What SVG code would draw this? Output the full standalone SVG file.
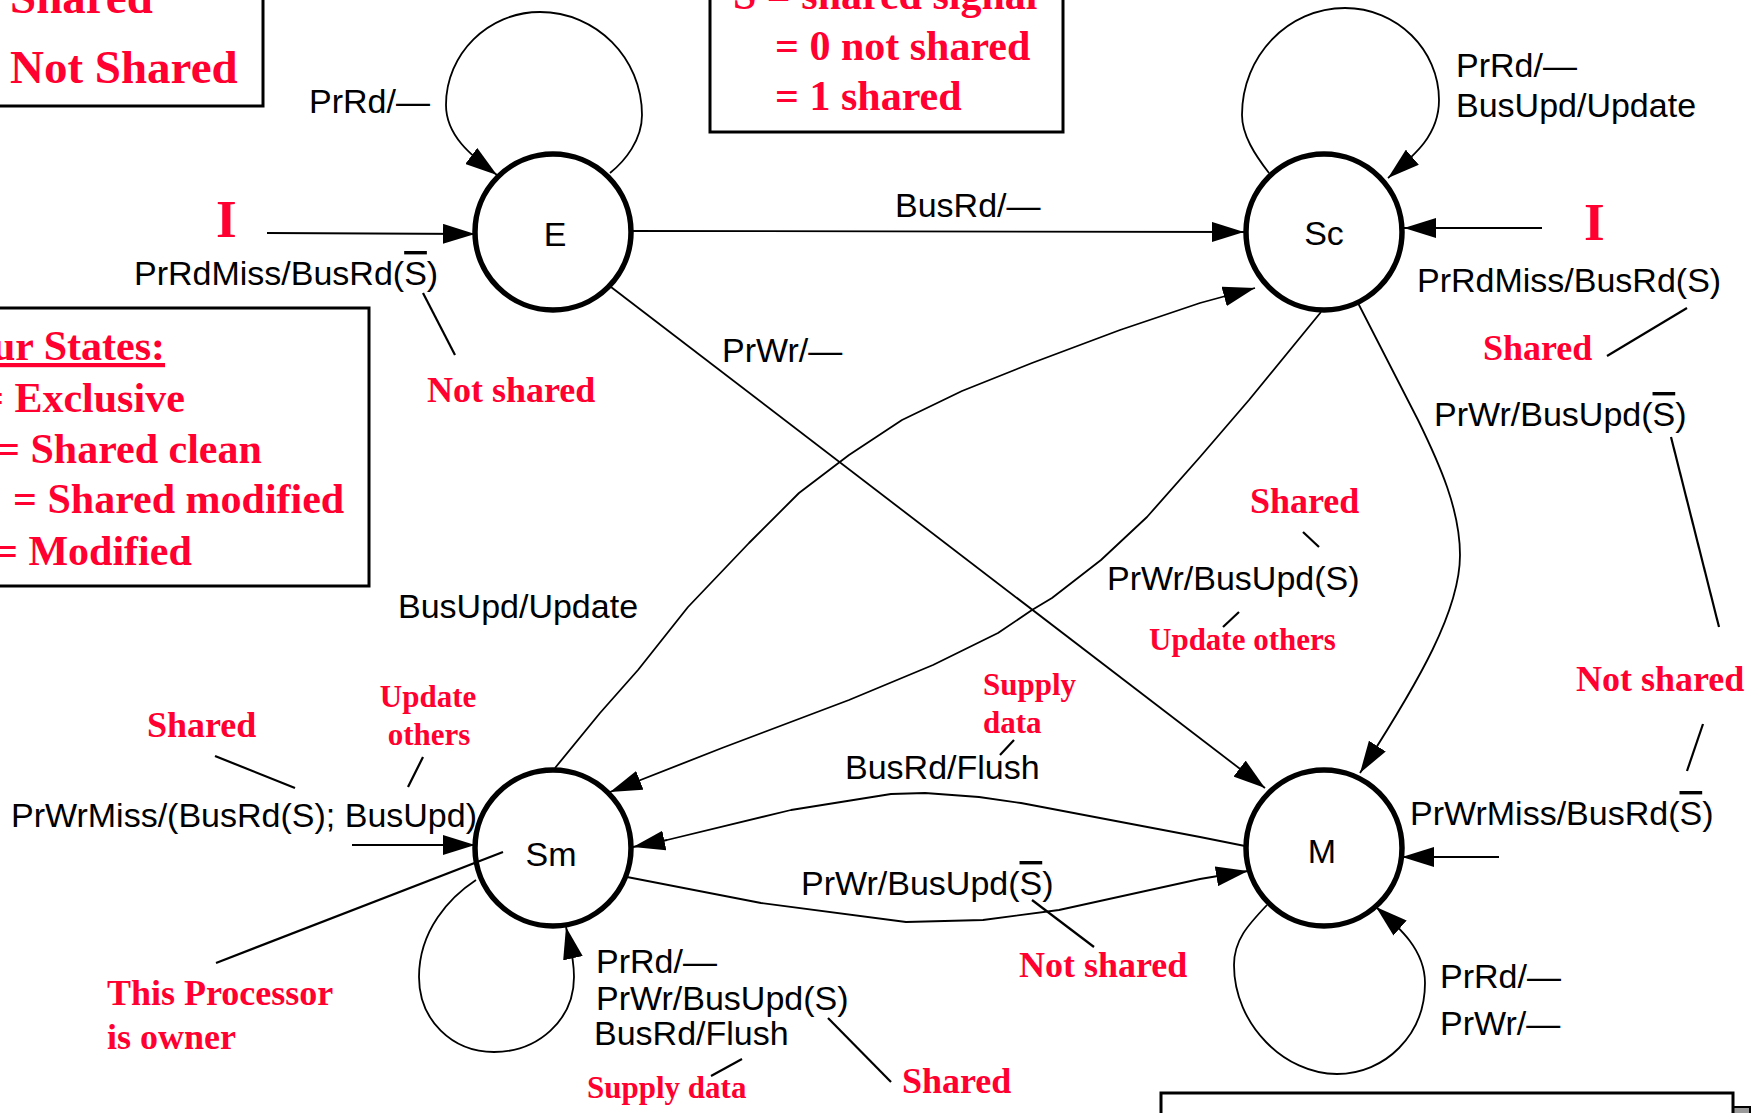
<svg xmlns="http://www.w3.org/2000/svg" width="1752" height="1113" viewBox="0 0 1752 1113">
<defs>
<style>
.lbl{font-family:"Liberation Sans",Arial,sans-serif;font-size:34px;fill:#000}
.st{font-family:"Liberation Sans",Arial,sans-serif;font-size:34px;fill:#000;text-anchor:middle}
.red{font-family:"Liberation Serif","Times New Roman",serif;font-weight:bold;fill:#ff0030}
.r36{font-size:36px}
.r31{font-size:31px}
.r42{font-size:42px}
.r47{font-size:47px}
.r53{font-size:53px}
.box{fill:#fff;stroke:#000;stroke-width:3}
.node{fill:none;stroke:#000;stroke-width:5.5}
.conn{fill:none;stroke:#000;stroke-width:1.8;stroke-linejoin:round;marker-end:url(#ah)}
.lead{fill:none;stroke:#000;stroke-width:2.2}
.ov{text-decoration:overline}
</style>
<marker id="ah" viewBox="0 0 32 20" refX="32" refY="10" markerWidth="32" markerHeight="20" orient="auto" markerUnits="userSpaceOnUse">
<path d="M0,0 L32,10 L0,20 z" fill="#000"/>
</marker>
</defs>
<rect x="0" y="0" width="1752" height="1113" fill="#fff"/>

<g id="legend-top-left">
<rect class="box" x="-10" y="-10" width="273" height="116"/>
<text class="red r47" x="10" y="13">Shared</text>
<text class="red r47" x="10" y="83">Not Shared</text>
</g>

<g id="legend-signal">
<rect class="box" x="710" y="-10" width="353" height="142"/>
<text class="red r42" x="733" y="9">S = shared signal</text>
<text class="red r42" x="775" y="60">= 0 not shared</text>
<text class="red r42" x="775" y="110">= 1 shared</text>
</g>

<g id="legend-states">
<rect class="box" x="-10" y="308" width="379" height="278"/>
<text class="red r42" x="-8" y="360" style="text-decoration:underline">ur States:</text>
<text class="red r42" x="-20" y="412">= Exclusive</text>
<text class="red r42" x="-4" y="463">= Shared clean</text>
<text class="red r42" x="13" y="513">= Shared modified</text>
<text class="red r42" x="-6" y="565">= Modified</text>
</g>

<g id="legend-bottom">
<rect x="1175" y="1107" width="575" height="40" fill="#9a9a9a" stroke="#000" stroke-width="2"/>
<rect class="box" x="1161" y="1093" width="572" height="40"/>
</g>

<g id="connectors">
<path class="conn" d="M267,233 L475,234"/>
<path class="conn" d="M631,231 L1244,232"/>
<path class="conn" d="M1542,228 L1404,228"/>
<path class="conn" d="M352,845 L475,845"/>
<path class="conn" d="M1499,857 L1402,857"/>
<path class="conn" d="M611,287 L1265,788"/>
<path class="conn" d="M610,173 C625,161 642,140 642,115 C642,58 596,12 540,12 C488,12 446,54 446,105 C446,135 470,155 497,175"/>
<path class="conn" d="M1269,173 C1255,155 1242,135 1242,115 C1242,56 1288,8 1345,8 C1397,8 1439,50 1439,100 C1439,135 1415,155 1388,178"/>
<path class="conn" d="M476,880 C450,897 419,930 419,977 C419,1020 452,1052 494,1052 C538,1052 574,1020 574,977 C574,957 570,945 566,927"/>
<path class="conn" d="M1267,905 C1248,925 1234,940 1234,965 C1234,1025 1285,1074 1337,1074 C1385,1074 1425,1035 1425,983 C1425,950 1400,928 1376,907"/>
<path class="conn" d="M1358,303 L1418,420 C1440,465 1460,510 1460,555 C1460,610 1420,680 1360,773"/>
<path class="conn" d="M1321,312 L1249,400 L1200,457 L1147,517 L1101,560 L1052,598 L1032,610 L998,633 L933,665 L849,700 L722,748 L610,792"/>
<path class="conn" d="M555,768 L600,713 L638,670 L688,607 L749,543 L799,493 L849,455 L902,420 L962,391 L1032,363 L1120,330 L1200,303 L1255,288"/>
<path class="conn" d="M1245,846 L1200,837 L1021,803 L979,797 L925,793 L891,794 L791,810 L667,840 L633,847"/>
<path class="conn" d="M627,877 L761,903 L906,922 L983,920 L1059,910 L1200,879 L1248,871"/>
</g>

<g id="leaders">
<line class="lead" x1="423" y1="293" x2="455" y2="355"/>
<line class="lead" x1="1687" y1="308" x2="1607" y2="356"/>
<line class="lead" x1="1671" y1="437" x2="1719" y2="627"/>
<line class="lead" x1="1703" y1="724" x2="1687" y2="771"/>
<line class="lead" x1="1303" y1="532" x2="1319" y2="547"/>
<line class="lead" x1="1239" y1="612" x2="1223" y2="627"/>
<line class="lead" x1="215" y1="756" x2="295" y2="788"/>
<line class="lead" x1="423" y1="757" x2="408" y2="787"/>
<line class="lead" x1="216" y1="963" x2="503" y2="852"/>
<line class="lead" x1="1014" y1="740" x2="1000" y2="755"/>
<line class="lead" x1="1032" y1="900" x2="1094" y2="947"/>
<line class="lead" x1="828" y1="1018" x2="891" y2="1082"/>
<line class="lead" x1="742" y1="1059" x2="711" y2="1076"/>
</g>

<g id="node-E">
<circle class="node" cx="553" cy="232" r="78"/>
<text class="st" x="555" y="246">E</text>
</g>
<g id="node-Sc">
<circle class="node" cx="1324" cy="232" r="78"/>
<text class="st" x="1324" y="245">Sc</text>
</g>
<g id="node-Sm">
<circle class="node" cx="553" cy="848" r="78"/>
<text class="st" x="551" y="866">Sm</text>
</g>
<g id="node-M">
<circle class="node" cx="1324" cy="848" r="78"/>
<text class="st" x="1322" y="863">M</text>
</g>

<g id="labels">
<text class="lbl" x="309" y="113">PrRd/—</text>
<text class="red r53" x="216" y="237">I</text>
<text class="lbl" x="134" y="285">PrRdMiss/BusRd(<tspan class="ov">S</tspan>)</text>
<text class="red r36" x="427" y="402">Not shared</text>
<text class="lbl" x="895" y="217">BusRd/—</text>
<text class="lbl" x="722" y="362">PrWr/—</text>
<text class="lbl" x="1456" y="77">PrRd/—</text>
<text class="lbl" x="1456" y="117">BusUpd/Update</text>
<text class="red r53" x="1584" y="240">I</text>
<text class="lbl" x="1417" y="292">PrRdMiss/BusRd(S)</text>
<text class="red r36" x="1483" y="360">Shared</text>
<text class="lbl" x="1434" y="426">PrWr/BusUpd(<tspan class="ov">S</tspan>)</text>
<text class="red r36" x="1576" y="691">Not shared</text>
<text class="lbl" x="1410" y="825">PrWrMiss/BusRd(<tspan class="ov">S</tspan>)</text>
<text class="red r36" x="1250" y="513">Shared</text>
<text class="lbl" x="1107" y="590">PrWr/BusUpd(S)</text>
<text class="red r31" x="1149" y="650">Update others</text>
<text class="lbl" x="398" y="618">BusUpd/Update</text>
<text class="red r36" x="147" y="737">Shared</text>
<text class="red r31" x="428" y="707" text-anchor="middle">Update</text>
<text class="red r31" x="429" y="745" text-anchor="middle">others</text>
<text class="lbl" x="11" y="827">PrWrMiss/(BusRd(S); BusUpd)</text>
<text class="red r36" x="107" y="1005">This Processor</text>
<text class="red r36" x="107" y="1049">is owner</text>
<text class="red r31" x="983" y="695">Supply</text>
<text class="red r31" x="983" y="733">data</text>
<text class="lbl" x="845" y="779">BusRd/Flush</text>
<text class="lbl" x="801" y="895">PrWr/BusUpd(<tspan class="ov">S</tspan>)</text>
<text class="red r36" x="1019" y="977">Not shared</text>
<text class="lbl" x="596" y="973">PrRd/—</text>
<text class="lbl" x="596" y="1010">PrWr/BusUpd(S)</text>
<text class="lbl" x="594" y="1045">BusRd/Flush</text>
<text class="red r36" x="902" y="1093">Shared</text>
<text class="red r31" x="587" y="1098">Supply data</text>
<text class="lbl" x="1440" y="988">PrRd/—</text>
<text class="lbl" x="1440" y="1035">PrWr/—</text>
</g>
</svg>
